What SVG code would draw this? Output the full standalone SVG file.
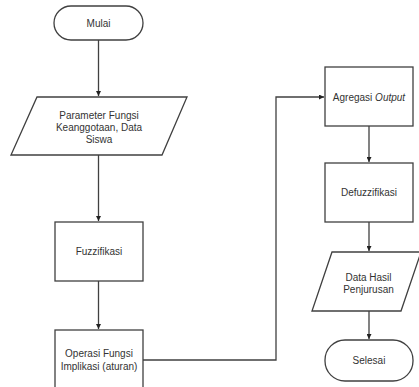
<svg xmlns="http://www.w3.org/2000/svg" width="419" height="387" viewBox="0 0 419 387">
<style>
.s{fill:#fff;stroke:#404040;stroke-width:1.3}
.t{font-family:"Liberation Sans",Arial,sans-serif;font-size:10px;fill:#333;text-anchor:middle}
.c{fill:none;stroke:#404040;stroke-width:1.3}
</style>
<defs>
<marker id="a" viewBox="0 0 10 10" refX="10" refY="5" markerWidth="5" markerHeight="5" orient="auto" markerUnits="userSpaceOnUse"><path d="M0,0 L10,5 L0,10 z" fill="#222"/></marker>
</defs>
<rect width="419" height="387" fill="#fff"/>
<g id="connectors">
<path class="c" d="M98.5,40 V96" marker-end="url(#a)"/>
<path class="c" d="M98.5,155 V221" marker-end="url(#a)"/>
<path class="c" d="M98.5,281 V329" marker-end="url(#a)"/>
<path class="c" d="M143,360 H276 V97 H324" marker-end="url(#a)"/>
<path class="c" d="M369,126 V162" marker-end="url(#a)"/>
<path class="c" d="M369,222 V251" marker-end="url(#a)"/>
<path class="c" d="M369,311 V339" marker-end="url(#a)"/>
</g>
<g id="mulai">
<rect class="s" x="54" y="6" width="89" height="34" rx="17"/>
<text class="t" x="98.5" y="26.5">Mulai</text>
</g>
<g id="parameter">
<polygon class="s" points="37,97 187,97 162,155 11,155"/>
<text class="t" x="99" y="118.5">Parameter Fungsi</text>
<text class="t" x="99" y="131">Keanggotaan, Data</text>
<text class="t" x="99" y="143">Siswa</text>
</g>
<g id="fuzzifikasi">
<rect class="s" x="55" y="222" width="88" height="59"/>
<text class="t" x="99" y="255">Fuzzifikasi</text>
</g>
<g id="operasi">
<rect class="s" x="55" y="330" width="88" height="65"/>
<text class="t" x="99" y="356.5">Operasi Fungsi</text>
<text class="t" x="99" y="369.5">Implikasi (aturan)</text>
</g>
<g id="agregasi">
<rect class="s" x="325" y="67" width="88" height="59"/>
<text class="t" x="369" y="100.5">Agregasi <tspan font-style="italic">Output</tspan></text>
</g>
<g id="defuzzifikasi">
<rect class="s" x="325" y="163" width="88" height="59"/>
<text class="t" x="369" y="195.5">Defuzzifikasi</text>
</g>
<g id="hasil">
<polygon class="s" points="332,252 421,252 401,311 312,311"/>
<text class="t" x="368.5" y="280.5">Data Hasil</text>
<text class="t" x="368.5" y="293">Penjurusan</text>
</g>
<g id="selesai">
<rect class="s" x="325" y="340" width="88" height="41" rx="20"/>
<text class="t" x="369" y="363.5">Selesai</text>
</g>
</svg>
